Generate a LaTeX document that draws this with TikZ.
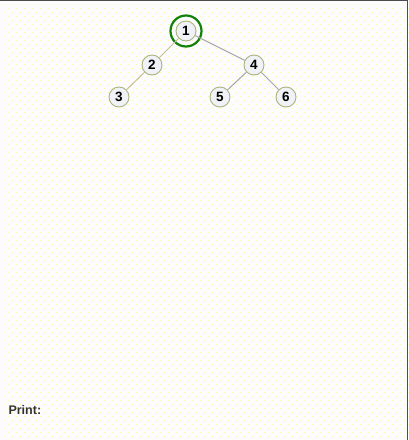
\documentclass[tikz,border=0pt]{standalone}
\usepackage{fontspec}
\setmainfont{Liberation Sans}
\usetikzlibrary{positioning}
\definecolor{ringgreen}{RGB}{20,130,10}
\definecolor{nodeline}{RGB}{170,180,125}
\definecolor{nodefill}{RGB}{240,242,247}
\definecolor{edgetan}{RGB}{200,190,140}
\definecolor{edgegray}{RGB}{165,165,165}
\definecolor{dotyellow}{RGB}{255,248,120}

\begin{document}
\begin{tikzpicture}[x=1pt, y=-1pt,
  treenode/.style={draw=nodeline, line width=0.9pt, circle, fill=nodefill, minimum size=20pt, inner sep=0pt, font=\fontsize{13.5}{15}\selectfont\bfseries},
  edge/.style={line width=1pt}]
  \fill[white!99!blue] (0,0) rectangle (408,440);
  \useasboundingbox (0,0) rectangle (408,440);
  % dotted backdrop
  \foreach \j in {0,...,109} {
    \pgfmathsetmacro{\xoff}{mod(\j,2)*4+4.5}
    \foreach \i in {0,...,50} {
      \fill[dotyellow] (\xoff+8*\i,4*\j+4.5) circle (0.42);
    }
  }
  \draw[black!70, line width=1pt] (0,0.5) -- (407.5,0.5) -- (407.5,440);
  % tree nodes
  \node[treenode] (n1) at (186,31) {1};
  \node[treenode] (n2) at (152,65) {2};
  \node[treenode] (n4) at (254,65) {4};
  \node[treenode] (n3) at (119,97) {3};
  \node[treenode] (n5) at (220,97) {5};
  \node[treenode] (n6) at (286,97) {6};
  \node[draw=ringgreen, circle, line width=2.2pt, minimum size=31pt] (ring) at (n1) {};
  % edges
  \draw[edge, edgetan] (n1) -- (n2);
  \draw[edge, edgegray] (n1) -- (n4);
  \draw[edge, edgetan] (n2) -- (n3);
  \draw[edge, edgegray] (n4) -- (n5);
  \draw[edge, edgegray] (n4) -- (n6);
  \node[anchor=west, text=black!80, font=\fontsize{12.5}{14}\selectfont\bfseries] (print) at (5,410) {Print:};
\end{tikzpicture}
\end{document}
